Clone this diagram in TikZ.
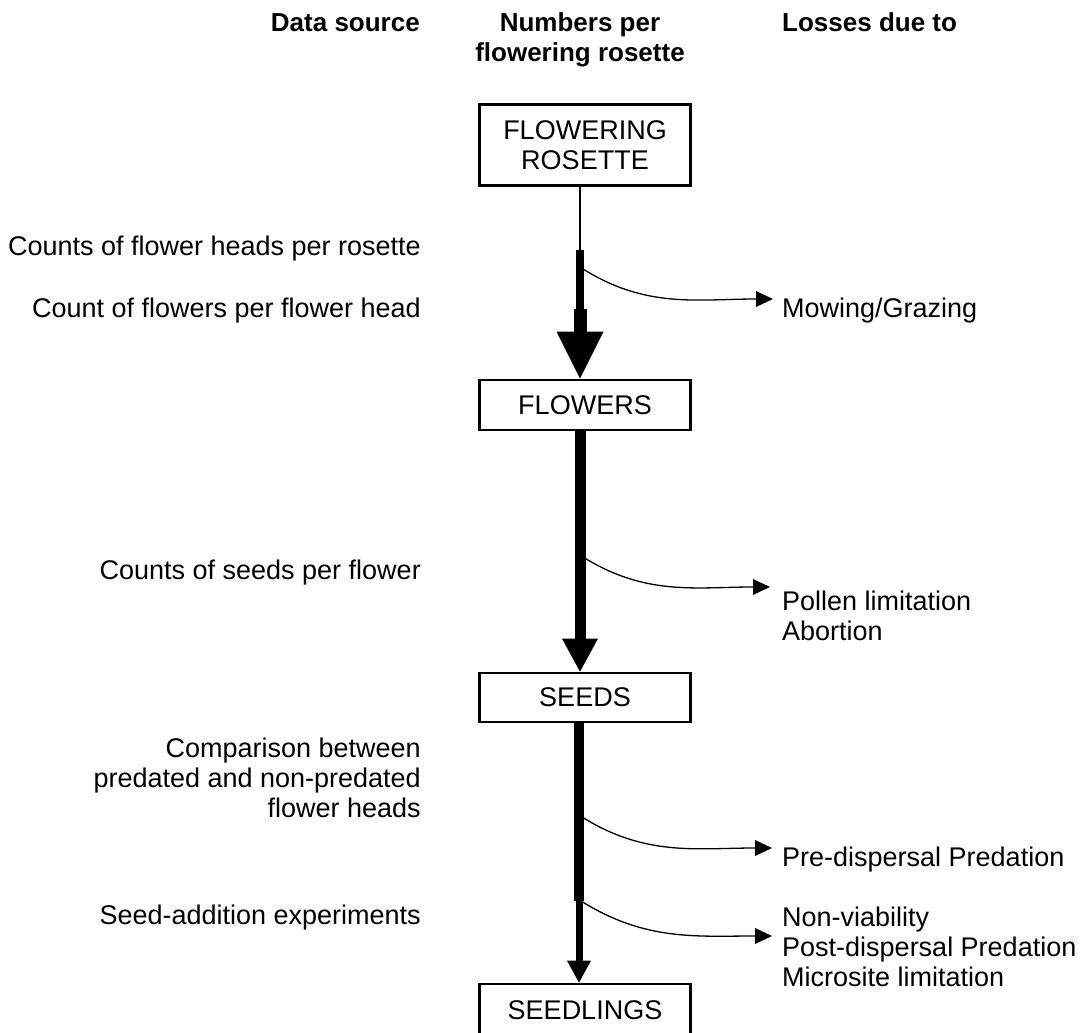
\documentclass[tikz,border=0pt]{standalone}
\usepackage{fontspec}
\setmainfont{Liberation Sans}
\usetikzlibrary{
    positioning,      % For placing nodes relative to each other
    arrows.meta       % For the triangular arrow tips
}
\newcommand{\diagfont}{\fontsize{27}{30}\selectfont}
\newcommand{\headfont}{\fontsize{26}{30}\selectfont\bfseries}

\begin{document}
\begin{tikzpicture}[
    % Pixel-like coordinates, y running downwards
    x=1pt, y=-1pt,
    % Style for the boxes of the main column
    stage_box/.style={
        draw,
        line width=2.7pt,
        minimum width=211pt,
        inner sep=0pt,
        align=center,
        font=\diagfont
    },
    % Style for the text labels at both sides
    side_label/.style={
        inner sep=0pt,
        font=\diagfont
    },
    % Single lines are centred on the middle of their capitals
    one_line/.style={
        text height=19.4pt,
        text depth=0pt
    },
    % Style for the column headers
    head_label/.style={
        inner sep=0pt,
        font=\headfont
    },
    % Style for the thin curved loss arrows
    loss_arrow/.style={
        line width=1.3pt,
        -{Triangle[length=17pt, width=16pt, line width=0pt]}
    }
]
    \path[use as bounding box, clip] (0,0) rectangle (1080,1033);

    % 1. Column headers.
    \node[head_label, one_line, anchor=east] (head_source) at (420,22) {Data source};
    \node[head_label, align=center] (head_numbers) at (580,39.6) {Numbers per\\flowering rosette};
    \node[head_label, one_line, anchor=west] (head_losses) at (782,22) {Losses due to};

    % 2. Boxes of the main column.
    \node[stage_box, minimum height=81pt] (rosette) at (585,145) {FLOWERING\\ROSETTE};
    \node[stage_box, minimum height=50pt] (flowers) at (585,405) {FLOWERS};
    \node[stage_box, minimum height=49pt] (seeds) at (585,697.5) {SEEDS};
    \node[stage_box, minimum height=52pt] (seedlings) at (585,1010) {SEEDLINGS};

    % 3. Data sources on the left.
    \node[side_label, one_line, anchor=east] (src_heads) at (421,246) {Counts of flower heads per rosette};
    \node[side_label, one_line, anchor=east] (src_flowers) at (421,308) {Count of flowers per flower head};
    \node[side_label, one_line, anchor=east] (src_seeds) at (421,570) {Counts of seeds per flower};
    \node[side_label, anchor=east, align=right] (src_predation) at (421,778)
        {Comparison between\\predated and non-predated\\flower heads};
    \node[side_label, one_line, anchor=east] (src_addition) at (421,915) {Seed-addition experiments};

    % 4. Losses on the right.
    \node[side_label, one_line, anchor=west] (loss_mowing) at (782,308) {Mowing/Grazing};
    \node[side_label, anchor=west, align=left] (loss_pollen) at (782,615.5)
        {Pollen limitation\\Abortion};
    \node[side_label, one_line, anchor=west] (loss_predispersal) at (782,857) {Pre-dispersal Predation};
    \node[side_label, anchor=west, align=left] (loss_postdispersal) at (782,947)
        {Non-viability\\Post-dispersal Predation\\Microsite limitation};

    % 5. Points on the column where the arrows change width or branch off.
    \coordinate (thin_end) at (580,250);
    \coordinate (thick_end) at (580,309);
    \coordinate (seeds_step) at (579,901);
    \coordinate (branch_mowing) at (583,269);
    \coordinate (branch_pollen) at (583,557);
    \coordinate (branch_predispersal) at (582,817);
    \coordinate (branch_postdispersal) at (581,901);

    % 6. The main arrows between the boxes.
    \draw[line width=1.5pt] (rosette.south -| thin_end) -- (thin_end);
    \draw[line width=8pt] (thin_end) -- (thick_end);
    \draw[line width=13pt, -{Triangle[length=47pt, width=47pt, line width=0pt]}]
        (thick_end) -- (flowers.north -| thick_end);

    \draw[line width=11pt, -{Triangle[length=33pt, width=36pt, line width=0pt]}]
        (flowers.south -| thick_end) -- (seeds.north -| thick_end);

    \draw[line width=10pt] (seeds.south -| seeds_step) -- (seeds_step);
    \draw[line width=7pt, -{Triangle[length=22pt, width=24pt, line width=0pt]}]
        (seeds_step) -- (seedlings.north -| seeds_step);

    % 7. The curved arrows to the losses.
    \draw[loss_arrow] (branch_mowing) to[out=-32, in=180]
        ([xshift=-9pt, yshift=9pt]loss_mowing.west);
    \draw[loss_arrow] (branch_pollen) to[out=-32, in=180]
        ([xshift=-12pt, yshift=28.5pt]loss_pollen.west);
    \draw[loss_arrow] (branch_predispersal) to[out=-32, in=180]
        ([xshift=-10pt, yshift=9pt]loss_predispersal.west);
    \draw[loss_arrow] (branch_postdispersal) to[out=-32, in=180]
        ([xshift=-10pt, yshift=11pt]loss_postdispersal.west);

\end{tikzpicture}
\end{document}
